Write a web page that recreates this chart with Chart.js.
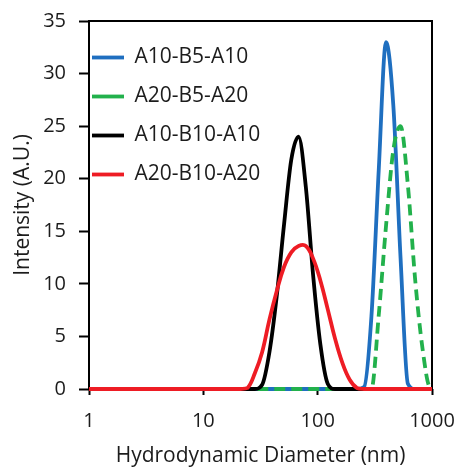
<!DOCTYPE html>
<html>
<head>
<meta charset="utf-8">
<script src="https://cdn.jsdelivr.net/npm/chart.js@4.4.1/dist/chart.umd.min.js"></script>
<style>
  html, body { margin: 0; padding: 0; background: #fff; }
  #wrap { position: relative; width: 458px; height: 469px; }
</style>
</head>
<body>
<div id="wrap"><canvas id="c"></canvas></div>
<script>
// Hydrodynamic diameter bins (nm)
const sizes = [0.9649, 1.117, 1.294, 1.499, 1.736, 2.01, 2.328, 2.696, 3.122, 3.615,
  4.187, 4.849, 5.615, 6.503, 7.531, 8.721, 10.1, 11.7, 13.54, 15.69,
  18.17, 21.04, 24.36, 28.21, 32.67, 37.84, 43.82, 50.75, 58.77, 68.06,
  78.82, 91.28, 105.7, 122.4, 141.8, 164.2, 190.1, 220.2, 255, 295.3,
  342, 396.1, 458.7, 531.2, 615.1, 712.4, 825, 955.4, 1106];

const seriesNames = ['A10-B5-A10', 'A20-B5-A20', 'A10-B10-A10', 'A20-B10-A20'];

const a10b5a10 = [0,0,0,0,0,0,0,0,0,0,
  0,0,0,0,0,0,0,0,0,0,
  0,0,0,0,0,0,0,0,0,0,
  0,0,0,0,0,0,0,0,0.2,6.9,
  20.8,33.0,27.0,12.4,0.5,0,0,0,0];

const a20b5a20 = [0,0,0,0,0,0,0,0,0,0,
  0,0,0,0,0,0,0,0,0,0,
  0,0,0,0,0,0,0,0,0,0,
  0,0,0,0,0,0,0,0,0,0,
  7.0,15.5,22.7,25.0,19.4,10.4,3.9,0.2,0];

const a10b10a10 = [0,0,0,0,0,0,0,0,0,0,
  0,0,0,0,0,0,0,0,0,0,
  0,0,0,0,0.4,3.5,8.8,15.6,21.8,24.0,
  19.2,10.8,4.2,0.5,0,0,0,0,0,0,
  0,0,0,0,0,0,0,0,0];

const a20b10a20 = [0,0,0,0,0,0,0,0,0,0,
  0,0,0,0,0,0,0,0,0,0,
  0,0,0.1,1.5,3.5,6.6,9.3,11.6,13.0,13.6,
  13.6,12.4,10.3,7.6,4.8,2.5,0.9,0.1,0,0,
  0,0,0,0,0,0,0,0,0];

const xTickValues = [1, 10, 100, 1000];
const xTickLabels = ['1', '10', '100', '1000'];
const yTickLabels = ['0', '5', '10', '15', '20', '25', '30', '35'];

const FONT = 'Open Sans';
const TXT = '#1c1c1c';

const framePlugin = {
  id: 'frame',
  beforeDraw(chart) {
    const lg = chart.legend;
    const ca = chart.chartArea;
    if (lg) {
      lg.left = ca.left - 15;
      lg.top = ca.top + 8;
      lg.right = lg.left + 250;
      lg.bottom = lg.top + 400;
    }
  },
  beforeDatasetsDraw(chart) {
    const {ctx, chartArea: a} = chart;
    ctx.save();
    ctx.strokeStyle = '#000';
    ctx.lineWidth = 2;
    ctx.strokeRect(a.left, a.top, a.right - a.left, a.bottom - a.top);
    ctx.restore();
  }
};

const common = {
  fill: false,
  pointRadius: 0,
  pointHoverRadius: 0,
  borderWidth: 3.8,
  cubicInterpolationMode: 'monotone',
  clip: {left: 0, right: 0, top: 5, bottom: 5}
};

new Chart(document.getElementById('c'), {
  type: 'line',
  data: {
    labels: sizes,
    datasets: [
      Object.assign({}, common, { label: seriesNames[0], data: a10b5a10, borderColor: '#1f6fc0', backgroundColor: '#1f6fc0', order: 4 }),
      Object.assign({}, common, { label: seriesNames[1], data: a20b5a20, borderColor: '#22b14c', backgroundColor: '#22b14c', borderDash: [11, 6], order: 3 }),
      Object.assign({}, common, { label: seriesNames[2], data: a10b10a10, borderColor: '#000000', backgroundColor: '#000000', order: 2 }),
      Object.assign({}, common, { label: seriesNames[3], data: a20b10a20, borderColor: '#ee1c24', backgroundColor: '#ee1c24', order: 1, cubicInterpolationMode: 'default', tension: 0.4 })
    ]
  },
  options: {
    responsive: true,
    maintainAspectRatio: false,
    animation: false,
    events: [],
    layout: { padding: 0 },
    plugins: {
      tooltip: { enabled: false },
      legend: {
        position: 'chartArea',
        align: 'start',
        labels: {
          usePointStyle: true,
          pointStyle: 'line',
          pointStyleWidth: 32,
          padding: 18,
          color: TXT,
          font: { family: FONT, size: 21 },
          sort: (a, b) => a.datasetIndex - b.datasetIndex
        }
      }
    },
    scales: {
      x: {
        type: 'logarithmic',
        min: 1,
        max: 1000,
        afterBuildTicks: (scale) => { scale.ticks = xTickValues.map(v => ({ value: v })); },
        afterFit: (scale) => { scale.height = 80; scale.paddingRight = 26; scale.paddingLeft = 0; },
        ticks: {
          autoSkip: false,
          maxRotation: 0,
          padding: 14,
          color: TXT,
          font: { family: FONT, size: 20 },
          callback: (v) => { const i = xTickValues.indexOf(v); return i >= 0 ? xTickLabels[i] : ''; }
        },
        grid: { display: true, drawOnChartArea: false, drawTicks: true, tickLength: 6, tickWidth: 2, tickColor: '#000' },
        border: { display: false },
        title: {
          display: true,
          text: 'Hydrodynamic Diameter (nm)',
          color: TXT,
          font: { family: FONT, size: 21 },
          padding: { top: 0, bottom: 0 }
        }
      },
      y: {
        type: 'linear',
        min: 0,
        max: 35,
        afterFit: (scale) => { scale.width = 89; scale.paddingTop = 21; scale.paddingBottom = 0; },
        ticks: {
          stepSize: 5,
          padding: 13,
          color: TXT,
          font: { family: FONT, size: 20 },
          callback: (v) => yTickLabels[Math.round(v / 5)]
        },
        grid: { display: true, drawOnChartArea: false, drawTicks: true, tickLength: 10, tickWidth: 2, tickColor: '#000' },
        border: { display: false },
        title: {
          display: true,
          text: 'Intensity (A.U.)',
          color: TXT,
          font: { family: FONT, size: 21 },
          padding: { top: 10.4, bottom: 0 }
        }
      }
    }
  },
  plugins: [framePlugin]
});
</script>
</body>
</html>
